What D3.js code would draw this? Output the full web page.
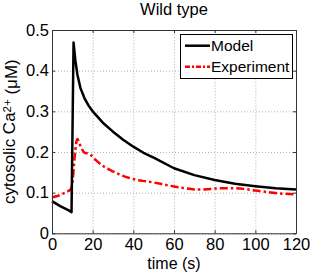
<!DOCTYPE html>
<html><head><meta charset="utf-8">
<script src="https://cdn.jsdelivr.net/npm/d3@7/dist/d3.min.js"></script>
<style>body{margin:0;background:#fff}svg{display:block}text{font-family:"Liberation Sans",Arial,sans-serif}</style>
</head><body>
<script>
const modelTime = [0, 2, 4, 6, 8, 9.6, 10.6, 11.5, 12.5, 14, 16, 18, 20, 25, 30, 35, 40, 45, 50, 60, 70, 80, 90, 100, 110, 120];
const modelCa = [0.079, 0.073, 0.067, 0.062, 0.057, 0.052, 0.469, 0.425, 0.39, 0.357, 0.332, 0.314, 0.300, 0.272, 0.250, 0.230, 0.213, 0.198, 0.186, 0.160, 0.143, 0.131, 0.122, 0.116, 0.111, 0.108];
const expTime = [0, 2, 4, 6, 8, 9, 10, 11, 12, 12.5, 13, 14, 15, 16, 17, 18, 19, 20, 22, 25, 28, 30, 34, 38, 42, 46, 50, 55, 60, 65, 70, 75, 80, 85, 90, 95, 100, 105, 110, 115, 120];
const expCa = [0.088, 0.091, 0.094, 0.099, 0.104, 0.107, 0.122, 0.18, 0.225, 0.232, 0.228, 0.215, 0.205, 0.198, 0.197, 0.196, 0.193, 0.188, 0.178, 0.166, 0.157, 0.152, 0.143, 0.136, 0.131, 0.128, 0.125, 0.12, 0.115, 0.111, 0.108, 0.108, 0.110, 0.111, 0.111, 0.109, 0.105, 0.102, 0.099, 0.097, 0.096];
const xTicks = [0, 20, 40, 60, 80, 100, 120];
const yTicks = [0, 0.1, 0.2, 0.3, 0.4, 0.5];
const yTickLabels = ["0", "0.1", "0.2", "0.3", "0.4", "0.5"];
const seriesNames = ["Model", "Experiment"];

const W = 327, H = 273;
const L = 52, R = 296, T = 30, B = 233.3;
const svg = d3.select("body").append("svg").attr("width", W).attr("height", H);
const x = d3.scaleLinear().domain([0, 120]).range([L, R]);
const y = d3.scaleLinear().domain([0, 0.5]).range([B, T]);

// grid
const grid = svg.append("g");
grid.append("g").attr("transform", `translate(0,${B})`)
  .call(d3.axisBottom(x).tickValues(xTicks).tickSize(-(B - T)).tickFormat(""))
  .call(g => { g.select(".domain").remove(); g.selectAll("line").attr("stroke", "#b0b0b0").attr("stroke-dasharray", "1,2"); });
grid.append("g").attr("transform", `translate(${L},0)`)
  .call(d3.axisLeft(y).tickValues(yTicks).tickSize(-(R - L)).tickFormat(""))
  .call(g => { g.select(".domain").remove(); g.selectAll("line").attr("stroke", "#b0b0b0").attr("stroke-dasharray", "1,2"); });

// lines
const lineM = d3.line().x((d, i) => x(modelTime[i])).y(d => y(d));
const lineE = d3.line().x((d, i) => x(expTime[i])).y(d => y(d)).curve(d3.curveMonotoneX);
svg.append("path").datum(expCa).attr("d", lineE).attr("fill", "none")
  .attr("stroke", "#ff0000").attr("stroke-width", 2.5).attr("stroke-dasharray", "8,3,2.5,3");
svg.append("path").datum(modelCa).attr("d", lineM).attr("fill", "none")
  .attr("stroke", "#000").attr("stroke-width", 2.5).attr("stroke-linejoin", "round");

// axes
const axColor = "#333";
function styleAx(g) {
  g.select(".domain").attr("stroke", axColor);
  g.selectAll(".tick line").attr("stroke", axColor);
  g.selectAll("text").attr("fill", "#000").style("font-size", "16.5px").style("font-family", '"Liberation Sans", Arial, sans-serif');
}
svg.append("g").attr("transform", `translate(0,${B})`)
  .call(d3.axisBottom(x).tickValues(xTicks).tickSizeInner(-3).tickSizeOuter(0).tickPadding(5).tickFormat(d3.format("d")))
  .call(styleAx);
svg.append("g").attr("transform", `translate(${L},0)`)
  .call(d3.axisLeft(y).tickValues(yTicks).tickSizeInner(-3).tickSizeOuter(0).tickPadding(3).tickFormat((d, i) => yTickLabels[i]))
  .call(styleAx);
svg.append("g").attr("transform", `translate(0,${T})`)
  .call(d3.axisTop(x).tickValues(xTicks).tickSizeInner(-3).tickSizeOuter(0).tickFormat(""))
  .call(styleAx);
svg.append("g").attr("transform", `translate(${R},0)`)
  .call(d3.axisRight(y).tickValues(yTicks).tickSizeInner(-3).tickSizeOuter(0).tickFormat(""))
  .call(styleAx);

// title and labels
svg.append("text").attr("x", (L + R) / 2).attr("y", 15).attr("text-anchor", "middle")
  .style("font-size", "16.5px").text("Wild type");
svg.append("text").attr("x", (L + R) / 2).attr("y", 268.5).attr("text-anchor", "middle")
  .style("font-size", "16px").text("time (s)");
const yl = svg.append("text").attr("transform", `translate(15,${(T + B) / 2}) rotate(-90)`)
  .attr("text-anchor", "middle").style("font-size", "17px");
yl.append("tspan").text("cytosolic Ca");
yl.append("tspan").attr("dy", "-0.35em").style("font-size", "11.5px").text("2+");
yl.append("tspan").attr("dy", "0.35em").text(" (\u03bcM)");

// legend
const lg = svg.append("g");
lg.append("rect").attr("x", 180.5).attr("y", 34.5).attr("width", 112).attr("height", 44)
  .attr("fill", "#fff").attr("stroke", "#000").attr("stroke-width", 1);
const lgY = [45.7, 66.7];
const lgStyles = [{c: "#000", d: null}, {c: "#ff0000", d: "5,2,2,2"}];
seriesNames.forEach((n, i) => {
  lg.append("line").attr("x1", 185).attr("x2", 210).attr("y1", lgY[i]).attr("y2", lgY[i])
    .attr("stroke", lgStyles[i].c).attr("stroke-width", 2.5).attr("stroke-dasharray", lgStyles[i].d);
  lg.append("text").attr("x", 211).attr("y", lgY[i] + 5.5).style("font-size", "15.5px").text(n);
});
</script>
</body></html>
